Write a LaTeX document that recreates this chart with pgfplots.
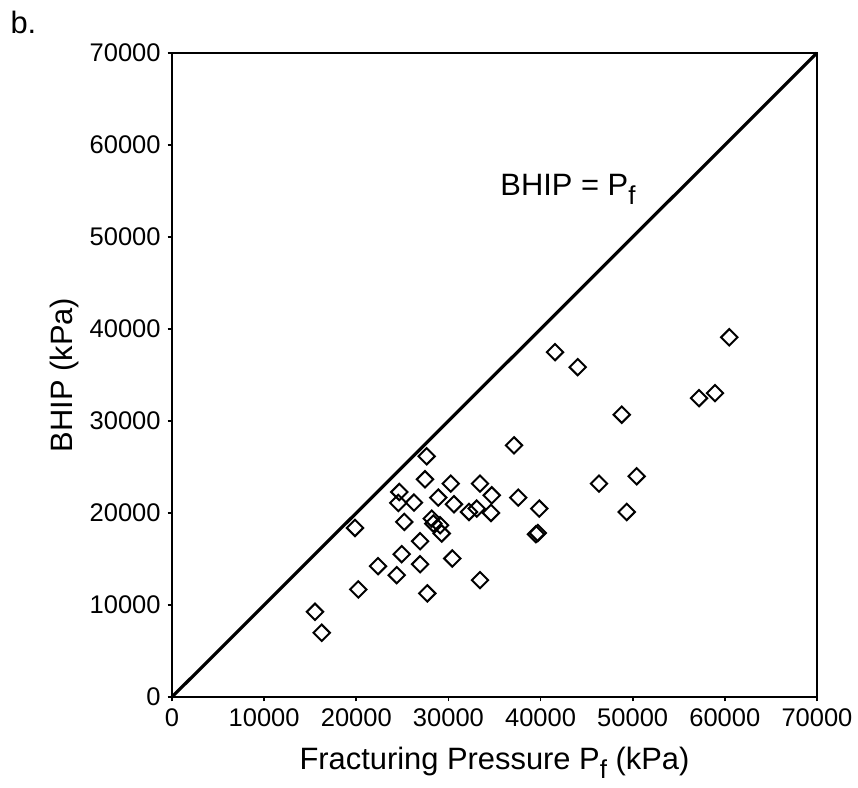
\documentclass[border=0pt]{standalone}
\usepackage{fontspec}
\setmainfont{Liberation Sans}
\usepackage{pgfplots}
\pgfplotsset{compat=1.18}
\newcommand{\subf}{\raisebox{-0.3em}{\fontsize{13}{15}\selectfont f}}
\begin{document}
\begin{tikzpicture}
\begin{axis}[
    scale only axis,
    width=322.5bp, height=322bp,
    xmin=0, xmax=70000, ymin=0, ymax=70000,
    xtick={0,10000,...,70000},
    ytick={0,10000,...,70000},
    scaled ticks=false,
    /pgf/number format/set thousands separator={},
    /pgf/number format/assume math mode=true,
    tick label style={font=\fontsize{12.8}{15}\selectfont},
    tick align=outside,
    xtick pos=bottom, ytick pos=left,
    major tick length=2.2bp,
    tick style={black, line width=0.8pt},
    axis line style={line width=1pt},
    xlabel={Fracturing Pressure P\subf\ (kPa)},
    ylabel={BHIP (kPa)},
    label style={font=\fontsize{15.5}{18}\selectfont},
    xlabel style={at={(axis description cs:0.5,-0.112)}, anchor=base},
    ylabel style={at={(axis description cs:-0.155,0.5)}, anchor=base},
    clip=false,
]
% line of equality
\addplot[black, line width=1.6pt] coordinates {(0,0) (70000,70000)};

% measured points
\addplot[only marks, mark=square, mark size=2.9pt,
    mark options={rotate=45, black, line width=1pt, fill=none}] coordinates {
(27640,26160) (37120,27350) (27460,23660) (30250,23190) (33430,23190)
(24670,22280) (24560,21090) (26260,21130) (28900,21670) (30600,20950)
(34700,21920) (37580,21670) (32230,20110) (33070,20480) (34620,20000)
(39860,20480) (19860,18370) (25210,19030) (28190,19390) (28360,18850)
(29090,18670) (29270,17770) (39500,17700) (39700,17820) (26920,16930)
(24930,15520) (30420,15050) (22360,14220) (26920,14430) (24390,13240)
(33430,12700) (20220,11690) (27710,11260) (15520,9260) (16250,6980)
(41570,37480) (44030,35850) (60480,39100) (57200,32480) (58930,33030)
(48810,30680) (50430,23990) (46340,23190) (49350,20110)
};

\node[anchor=base west, inner sep=0pt, font=\fontsize{15.5}{18}\selectfont]
    at (axis cs:35600,54500) {BHIP = P\subf};
\node[anchor=north west, inner sep=0pt, font=\fontsize{15.5}{18}\selectfont]
    at (rel axis cs:-0.251,1.066) {b.};
\coordinate (bbl) at (rel axis cs:-0.2667,-0.1400);
\coordinate (btr) at (rel axis cs:1.0636,1.0823);
\end{axis}
\pgfresetboundingbox
\path[use as bounding box] (bbl) rectangle (btr);
\end{tikzpicture}
\end{document}
